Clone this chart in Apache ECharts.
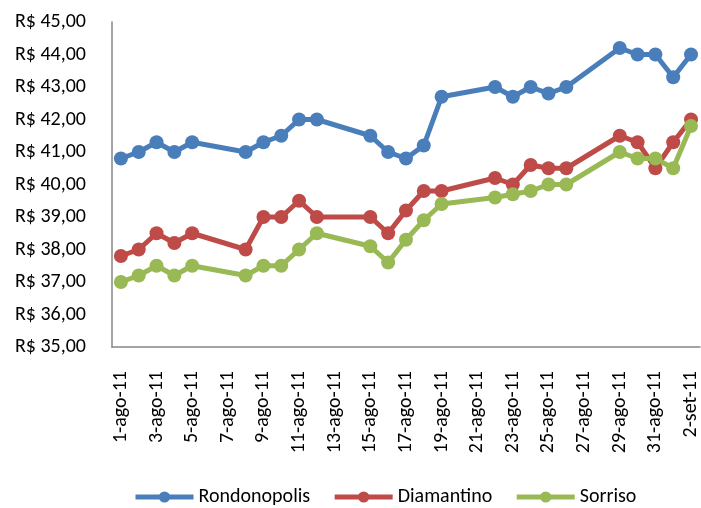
<!DOCTYPE html>
<html>
<head>
<meta charset="utf-8">
<script src="https://cdn.jsdelivr.net/npm/echarts@6/dist/echarts.min.js"></script>
<style>
html,body{margin:0;padding:0;background:#fff;}
#main{width:701px;height:508px;}
</style>
</head>
<body>
<div id="main"></div>
<script>
// dias do periodo (categorias do eixo x)
var dias = ['1-ago-11','2-ago-11','3-ago-11','4-ago-11','5-ago-11','6-ago-11','7-ago-11','8-ago-11','9-ago-11','10-ago-11',
    '11-ago-11','12-ago-11','13-ago-11','14-ago-11','15-ago-11','16-ago-11','17-ago-11','18-ago-11','19-ago-11','20-ago-11',
    '21-ago-11','22-ago-11','23-ago-11','24-ago-11','25-ago-11','26-ago-11','27-ago-11','28-ago-11','29-ago-11','30-ago-11',
    '31-ago-11','1-set-11','2-set-11'];
// fins de semana sem cotacao = null
var rondonopolis = [40.8,41.0,41.3,41.0,41.3,null,null,41.0,41.3,41.5,42.0,42.0,null,null,41.5,41.0,40.8,41.2,42.7,null,null,
    43.0,42.7,43.0,42.8,43.0,null,null,44.2,44.0,44.0,43.3,44.0];
var diamantino = [37.8,38.0,38.5,38.2,38.5,null,null,38.0,39.0,39.0,39.5,39.0,null,null,39.0,38.5,39.2,39.8,39.8,null,null,
    40.2,40.0,40.6,40.5,40.5,null,null,41.5,41.3,40.5,41.3,42.0];
var sorriso = [37.0,37.2,37.5,37.2,37.5,null,null,37.2,37.5,37.5,38.0,38.5,null,null,38.1,37.6,38.3,38.9,39.4,null,null,
    39.6,39.7,39.8,40.0,40.0,null,null,41.0,40.8,40.8,40.5,41.8];

var fonte = 'Carlito, "Liberation Sans Narrow", "Liberation Sans", sans-serif';

function serie(nome, dados, cor){
    return {
        name: nome,
        type: 'line',
        data: dados,
        connectNulls: true,
        showAllSymbol: true,
        symbol: 'circle',
        symbolSize: 14,
        clip: false,
        lineStyle: {width: 5, color: cor},
        itemStyle: {color: cor}
    };
}

var myChart = echarts.init(document.getElementById('main'));
var option = {
    animation: false,
    textStyle: {fontFamily: fonte},
    grid: {left: 112, right: 0, top: 22, bottom: 161},
    legend: {
        bottom: -4,
        left: 128,
        itemWidth: 58,
        itemHeight: 14,
        itemGap: 22,
        lineStyle: {width: 5},
        textStyle: {fontSize: 20, color: '#000', fontFamily: fonte},
        data: ['Rondonopolis','Diamantino','Sorriso']
    },
    xAxis: {
        type: 'category',
        data: dias,
        boundaryGap: true,
        axisLine: {lineStyle: {color: '#868686', width: 1.5}},
        axisTick: {show: false},
        axisLabel: {
            interval: 1,
            rotate: 90,
            margin: 24,
            fontSize: 20,
            color: '#000',
            fontFamily: fonte
        }
    },
    yAxis: {
        type: 'value',
        min: 35,
        max: 45,
        interval: 1,
        axisLine: {show: true, lineStyle: {color: '#868686', width: 1.5}},
        axisTick: {show: false},
        splitLine: {show: false},
        axisLabel: {
            margin: 26,
            fontSize: 20,
            color: '#000',
            fontFamily: fonte,
            formatter: function(v){ return 'R$ ' + v.toFixed(2).replace('.', ','); }
        }
    },
    series: [
        serie('Rondonopolis', rondonopolis, '#4A7EBB'),
        serie('Diamantino', diamantino, '#BE4B48'),
        serie('Sorriso', sorriso, '#98B954')
    ]
};
myChart.setOption(option);
</script>
</body>
</html>
